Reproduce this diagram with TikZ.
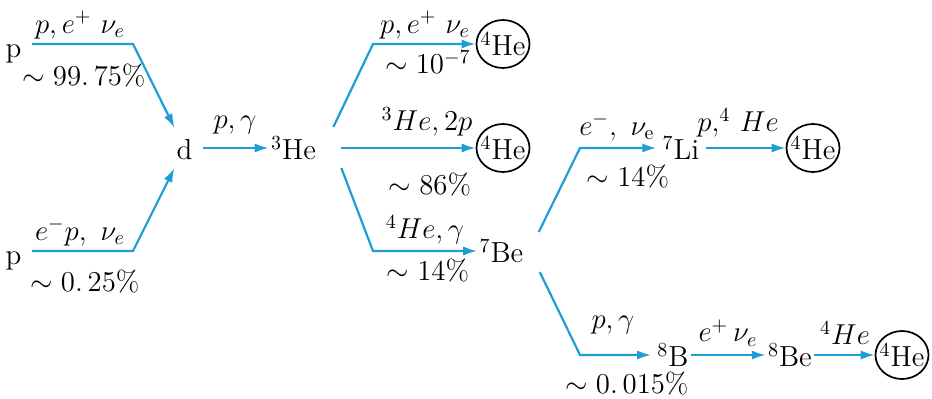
\documentclass[tikz,border=0pt]{standalone}
\usetikzlibrary{arrows.meta,shapes.geometric}
\definecolor{lineblue}{RGB}{30,158,212}
\begin{document}
\begin{tikzpicture}[x=0.5pt,y=-0.5pt,
  nuc/.style={inner sep=1pt, text height=13pt, text depth=1.2pt, font=\fontsize{14.5}{17}\selectfont},
  hefour/.style={ellipse, draw=black, line width=0.85pt, inner sep=0pt, minimum width=26.5pt, minimum height=24pt, font=\fontsize{14.5}{17}\selectfont},
  lbl/.style={inner sep=0pt, font=\fontsize{14}{17}\selectfont},
  conn/.style={draw=lineblue, line width=1.1pt, line join=miter, -{Latex[length=7pt,width=4.6pt]}}]
\useasboundingbox (0,0) rectangle (932,398);
% nuclei
\node[nuc] (p1) at (13.5,46) {p};
\node[nuc] (p2) at (13.5,253) {p};
\node[nuc] (d) at (184.5,148) {d};
\node[nuc] (he3) at (293.5,148) {$^{3}$He};
\node[nuc] (be7) at (501.5,251) {$^{7}$Be};
\node[nuc] (li7) at (681,148) {$^{7}$Li};
\node[nuc] (b8) at (673,355) {$^{8}$B};
\node[nuc] (be8) at (790,355) {$^{8}$Be};
\node[hefour] (he4a) at (503,44) {\makebox[15pt][c]{$^{4}$He}};
\node[hefour] (he4b) at (503,148) {\makebox[15pt][c]{$^{4}$He}};
\node[hefour] (he4c) at (813,148) {\makebox[15pt][c]{$^{4}$He}};
\node[hefour] (he4d) at (902,355) {\makebox[15pt][c]{$^{4}$He}};
% corners
\coordinate (k1) at (133,44);
\coordinate (k2) at (133,251);
\coordinate (k3) at (373,44);
\coordinate (k4) at (373,251);
\coordinate (k5) at (580,148);
\coordinate (k6) at (580,355);
% connectors
\draw[conn, shorten >=2pt] ([shift={(8,-2)}]p1.east) -- (k1) -- (d);
\draw[conn, shorten >=2pt] ([shift={(8,-2)}]p2.east) -- (k2) -- (d);
\draw[conn, shorten <=4pt] (d) -- (he3);
\draw[conn] ([shift={(15,-21)}]he3.east) -- (k3) -- (he4a);
\draw[conn, shorten <=11.5pt] (he3) -- (he4b);
\draw[conn] ([shift={(23,20)}]he3.east) -- (k4) -- (be7);
\draw[conn, shorten >=2pt] ([shift={(13,-19)}]be7.east) -- (k5) -- (li7);
\draw[conn, shorten <=2pt] (li7) -- (he4c);
\draw[conn, shorten >=2pt] ([shift={(14,21)}]be7.east) -- (k6) -- (b8);
\draw[conn] (b8) -- (be8);
\draw[conn] (be8) -- (he4d);
% labels
\node[lbl] (l1) at (80,25) {$p,e^{+}\ \nu_e$};
\node[lbl] (l2) at (84,75) {$\sim 99.\,75\%$};
\node[lbl] (l3) at (80,232) {$e^{-}p,\ \nu_e$};
\node[lbl] (l4) at (85,281) {$\sim 0.\,25\%$};
\node[lbl] (l5) at (235,125) {$p,\gamma$};
\node[lbl] (l6) at (425,25) {$p,e^{+}\ \nu_e$};
\node[lbl] (l7) at (428,62) {$\sim 10^{-7}$};
\node[lbl] (l8) at (427,122) {$^{3}He,2p$};
\node[lbl] (l9) at (430,184) {$\sim 86\%$};
\node[lbl] (l10) at (425,230) {$^{4}He,\gamma$};
\node[lbl] (l11) at (428,270) {$\sim 14\%$};
\node[lbl] (l12) at (617,127) {$e^{-},\ \nu_{\mathrm{e}}$};
\node[lbl] (l13) at (628,176) {$\sim 14\%$};
\node[lbl] (l14) at (738,123) {$p,^{4}\,He$};
\node[lbl] (l15) at (613,325) {$p,\gamma$};
\node[lbl] (l16) at (627,383) {$\sim 0.\,015\%$};
\node[lbl] (l17) at (728,333) {$e^{+}\,\nu_e$};
\node[lbl] (l18) at (845,333) {$^{4}He$};
\end{tikzpicture}
\end{document}
